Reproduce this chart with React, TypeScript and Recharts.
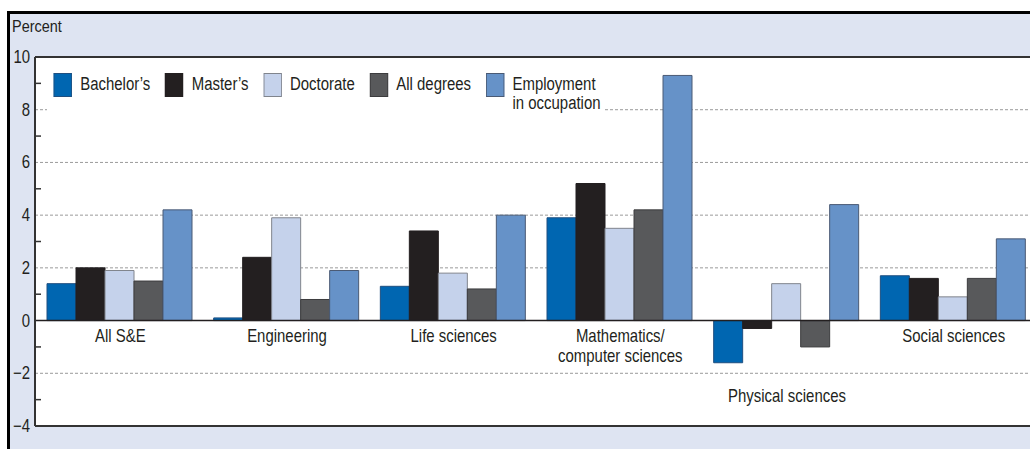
import {
	BarChart,
	Bar,
	XAxis,
	YAxis,
	CartesianGrid,
	ReferenceLine,
	Legend,
} from 'recharts';

const CATEGORIES = [
	'All S&E',
	'Engineering',
	'Life sciences',
	'Mathematics/\ncomputer sciences',
	'Physical sciences',
	'Social sciences',
];
const BACHELORS = [1.4, 0.1, 1.3, 3.9, -1.6, 1.7];
const MASTERS = [2.0, 2.4, 3.4, 5.2, -0.3, 1.6];
const DOCTORATE = [1.9, 3.9, 1.8, 3.5, 1.4, 0.9];
const ALL_DEGREES = [1.5, 0.8, 1.2, 4.2, -1.0, 1.6];
const EMPLOYMENT = [4.2, 1.9, 4.0, 9.3, 4.4, 3.1];

const Y_TICKS = [-4, -3, -2, -1, 0, 1, 2, 3, 4, 5, 6, 7, 8, 9, 10];
const RIGHT_TICKS = [-3, -1, 1, 3, 5, 7, 9];
const GRID_VALUES = [-2, 2, 4, 6, 8];

const SERIES = [
	{ key: 'bachelors', name: 'Bachelor’s', values: BACHELORS, fill: '#0066b1', stroke: '#1f4f80' },
	{ key: 'masters', name: 'Master’s', values: MASTERS, fill: '#231f20', stroke: '#231f20' },
	{ key: 'doctorate', name: 'Doctorate', values: DOCTORATE, fill: '#c5d2eb', stroke: '#80848c' },
	{ key: 'all', name: 'All degrees', values: ALL_DEGREES, fill: '#58595b', stroke: '#3c3c3e' },
	{ key: 'employment', name: 'Employment\nin occupation', values: EMPLOYMENT, fill: '#6692c8', stroke: '#4a5a74' },
];

const data = CATEGORIES.map((name, i) => {
	const row: Record<string, string | number> = { name };
	SERIES.forEach((s) => (row[s.key] = s.values[i]));
	return row;
});

// no condensed face installed, so squeeze Liberation Sans horizontally
const FONT = '"Liberation Sans", Arial, sans-serif';
const SX = 0.83;
const INK = '#231f20';

const W = 1100;
const H = 449;
const MARGIN = { top: 57, right: 55, bottom: 21, left: 8 };
const X_AXIS_H = 2;
const Y_MIN = -4;
const Y_MAX = 10;
const PLOT_H = H - MARGIN.top - MARGIN.bottom - X_AXIS_H;

const valueToY = (v: number) => MARGIN.top + ((Y_MAX - v) / (Y_MAX - Y_MIN)) * PLOT_H;

const LeftTick = ({ x, y, payload }: any) => {
	const v = payload.value;
	if (v % 2 !== 0) {
		return <line x1={x + 5} x2={x + 11} y1={y} y2={y} stroke='#333' strokeWidth={1.5} />;
	}
	return (
		<g transform={`translate(${x},${y}) scale(${SX},1)`}>
			<text x={0} y={0} textAnchor='end' dominantBaseline='central' fontSize={18} fill={INK} fontFamily={FONT}>
				{v < 0 ? `−${-v}` : v}
			</text>
		</g>
	);
};

const RightTick = ({ x, y }: any) => (
	<line x1={x - 6} x2={x} y1={y} y2={y} stroke='#333' strokeWidth={1.5} />
);

const CategoryTick = ({ x, payload }: any) => {
	const idx = CATEGORIES.indexOf(payload.value);
	const low = Math.min(0, ...SERIES.map((s) => s.values[idx]));
	const top = valueToY(low) + (low < 0 ? 33 : 15);
	const lines = String(payload.value).split('\n');
	return (
		<g transform={`translate(${x + 2},${top}) scale(${SX},1)`}>
			<text x={0} y={0} textAnchor='middle' fontSize={18} fill={INK} fontFamily={FONT}>
				{lines.map((l, i) => (
					<tspan key={i} x={0} y={i * 20} dominantBaseline='central'>
						{l}
					</tspan>
				))}
			</text>
		</g>
	);
};

const LegendBox = () => (
	<div
		style={{
			display: 'flex',
			alignItems: 'flex-start',
			gap: 18,
			padding: '7px 0 0 8px',
			transform: `scaleX(${SX})`,
			transformOrigin: '0 0',
			fontFamily: FONT,
			fontSize: 18,
			color: INK,
		}}>
		{SERIES.map((s) => (
			<div key={s.key} style={{ display: 'flex', alignItems: 'flex-start', gap: 10 }}>
				<div
					style={{
						width: 22,
						height: 24,
						background: s.fill,
						border: `1px solid ${s.stroke}`,
						boxSizing: 'border-box',
						flex: 'none',
					}}
				/>
				<div style={{ whiteSpace: 'pre', lineHeight: '19px', marginTop: 2 }}>{s.name}</div>
			</div>
		))}
	</div>
);

const App = () => {
	return (
		<div
			style={{
				position: 'absolute',
				left: 0,
				top: 0,
				width: 1030,
				height: 449,
				overflow: 'hidden',
				background: '#fff',
			}}>
			<div
				style={{
					position: 'absolute',
					left: 7,
					top: 11,
					width: 1150,
					height: 500,
					border: '3px solid #000',
					background: '#dee4f2',
				}}
			/>
			<div
				style={{
					position: 'absolute',
					left: 12,
					top: 17,
					fontFamily: FONT,
					fontSize: 17,
					color: INK,
					transform: 'scaleX(0.85)',
					transformOrigin: '0 0',
				}}>
				Percent
			</div>
			<div style={{ position: 'absolute', left: 0, top: 0 }}>
				<BarChart
					width={W}
					height={H}
					data={data}
					margin={MARGIN}
					barCategoryGap={12}
					barGap={0}>
					<CartesianGrid
						vertical={false}
						horizontalValues={GRID_VALUES}
						fill='#fff'
						fillOpacity={1}
						stroke='#9a9a9a'
						strokeDasharray='3 2'
					/>
					<XAxis
						dataKey='name'
						height={X_AXIS_H}
						interval={0}
						tickLine={false}
						tick={<CategoryTick />}
						axisLine={{ stroke: '#333', strokeWidth: 2 }}
					/>
					<YAxis
						domain={[Y_MIN, Y_MAX]}
						ticks={Y_TICKS}
						interval={0}
						width={27}
						tickSize={0}
						tickMargin={5}
						tickLine={false}
						tick={<LeftTick />}
						axisLine={{ stroke: '#333', strokeWidth: 2 }}
					/>
					<YAxis
						yAxisId='r'
						orientation='right'
						domain={[Y_MIN, Y_MAX]}
						ticks={RIGHT_TICKS}
						interval={0}
						width={10}
						tickSize={0}
						tickMargin={0}
						tickLine={false}
						tick={<RightTick />}
						axisLine={{ stroke: '#333', strokeWidth: 2 }}
					/>
					<Legend
						layout='horizontal'
						verticalAlign='middle'
						align='center'
						content={<LegendBox />}
						wrapperStyle={{ left: 47, top: 66, width: 558, height: 48, background: '#fff', overflow: 'hidden' }}
					/>
					{SERIES.map((s) => (
						<Bar
							key={s.key}
							dataKey={s.key}
							name={s.name}
							fill={s.fill}
							stroke={s.stroke}
							strokeWidth={1}
							isAnimationActive={false}
						/>
					))}
					<ReferenceLine y={0} stroke={INK} strokeWidth={1.5} />
					<ReferenceLine y={Y_MAX} stroke='#333' strokeWidth={2} />
				</BarChart>
			</div>
		</div>
	);
};

export default App;
